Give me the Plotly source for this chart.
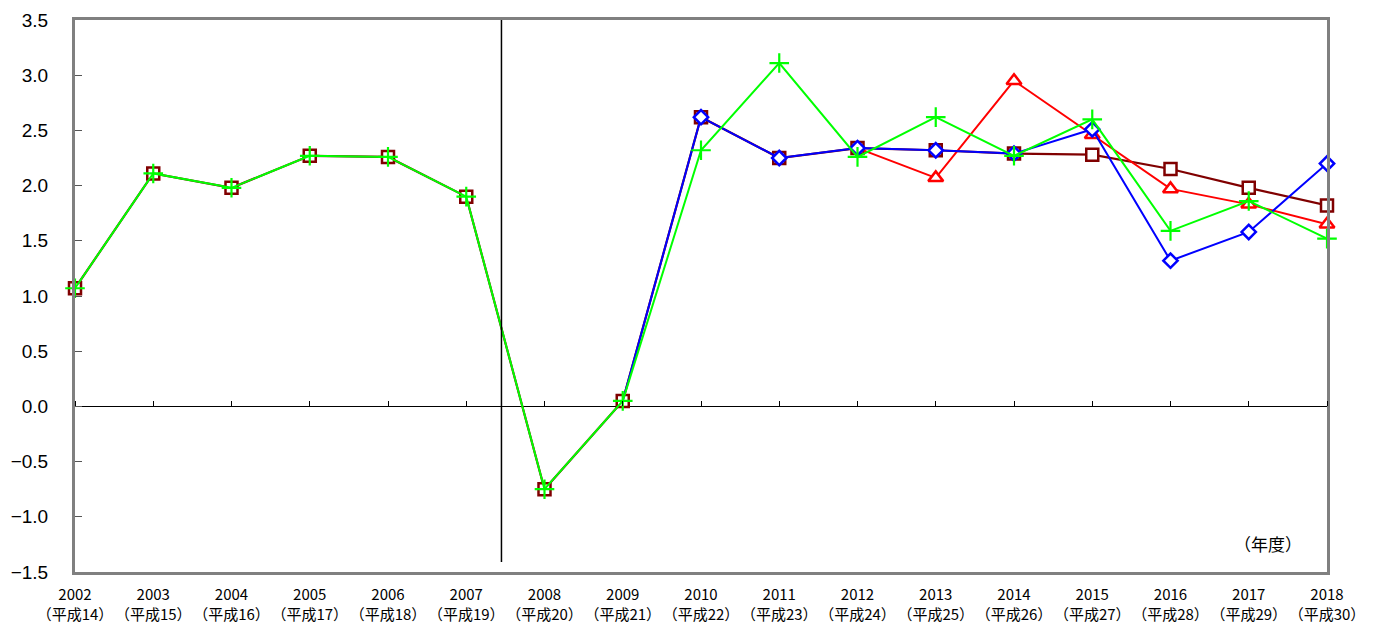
import plotly.graph_objects as go

years = list(range(2002, 2019))
heisei = list(range(14, 31))
tick_text = [f"{y}<br>（平成{h}）" for y, h in zip(years, heisei)]

N = None
series_darkred = [1.07, 2.11, 1.98, 2.27, 2.26, 1.90, -0.75, 0.05, 2.62, 2.25, 2.34, 2.32, 2.29, 2.28, 2.15, 1.98, 1.82]
series_red     = [N, N, N, N, N, N, N, N, N, N, 2.34, 2.07, 2.95, 2.46, 1.97, 1.83, 1.65]
series_blue    = [N, N, N, N, N, N, N, 0.05, 2.62, 2.25, 2.34, 2.32, 2.29, 2.51, 1.32, 1.58, 2.20]
series_green   = [1.07, 2.11, 1.98, 2.27, 2.26, 1.90, -0.75, 0.05, 2.32, 3.11, 2.26, 2.62, 2.27, 2.60, 1.59, 1.86, 1.52]

y_ticks = [3.5, 3.0, 2.5, 2.0, 1.5, 1.0, 0.5, 0.0, -0.5, -1.0, -1.5]
y_tick_text = [f"{v:.1f}".replace("-", "−") for v in y_ticks]
divider_x = 2007.45
divider_y = [-1.41, 3.5]

fig = go.Figure()


def sizes_hide_first(vals, size):
    first = next(i for i, v in enumerate(vals) if v is not None)
    return [0 if i == first else size for i in range(len(vals))]


def add(vals, color, symbol, size, lw=2, hide_first=False, fill="white"):
    fig.add_trace(go.Scatter(
        x=years, y=vals, mode="lines+markers", cliponaxis=False,
        line=dict(color=color, width=lw),
        marker=dict(symbol=symbol, opacity=1,
                    size=sizes_hide_first(vals, size) if hide_first else size,
                    color=fill, line=dict(color=color, width=2.5)),
        showlegend=False, connectgaps=False))

add(series_darkred, "#800000", "square", 12, lw=2.2)
add(series_red, "#ff0000", "triangle-up", 13, hide_first=True)
add(series_blue, "#0000ff", "diamond", 11, hide_first=True)
fig.add_trace(go.Scatter(
    x=years, y=series_green, mode="lines+markers", cliponaxis=False,
    line=dict(color="#00ff00", width=2),
    marker=dict(symbol="cross-thin", size=14, color="#00ff00",
                line=dict(color="#00ff00", width=2.2)),
    showlegend=False))

fig.add_shape(type="line", x0=divider_x, x1=divider_x, y0=divider_y[0], y1=divider_y[1],
              xref="x", yref="y", line=dict(color="black", width=1.5))

fig.add_annotation(text="（年度）", x=0.982, y=0.0525, xref="paper", yref="paper",
                   showarrow=False, xanchor="right", yanchor="middle",
                   font=dict(size=17, color="black", family="Noto Sans CJK JP"))

font_family = "Noto Sans CJK JP, Liberation Sans, sans-serif"
num_font = "Liberation Sans, Arial, sans-serif"

fig.update_layout(
    width=1376, height=625,
    margin=dict(l=75, r=49, t=20, b=53),
    plot_bgcolor="white", paper_bgcolor="white",
    font=dict(family=font_family, color="black"),
    xaxis=dict(range=[2002, 2018], tickvals=years, ticktext=tick_text,
               showgrid=False, zeroline=False, ticks="", automargin=False,
               tickangle=0, ticklabelstandoff=7,
               showline=True, mirror=True, linecolor="#808080", linewidth=3,
               tickfont=dict(size=15, family=font_family)),
    xaxis2=dict(range=[2002, 2018], overlaying="x", anchor="free", position=0.3,
                side="top", tickvals=years, ticks="outside", ticklen=5,
                tickcolor="black", tickwidth=1, showticklabels=False, automargin=False,
                showgrid=False, zeroline=False, showline=False),
    yaxis=dict(range=[-1.5, 3.5], tickvals=y_ticks, ticktext=y_tick_text,
               showgrid=False, zeroline=True, zerolinecolor="black", zerolinewidth=1,
               ticks="inside", ticklen=7, tickcolor="#555555", tickwidth=1,
               showline=True, mirror=True, linecolor="#808080", linewidth=3,
               ticklabelstandoff=20, automargin=False,
               tickfont=dict(size=19, family=num_font)),
)

fig.add_trace(go.Scatter(x=[2002], y=[None], xaxis="x2", showlegend=False, hoverinfo="skip"))

fig.write_html("out.html", config={"displayModeBar": False})

# remove the default page margin so the figure sits at the window origin
with open("out.html", encoding="utf-8") as f:
    html = f.read()
html = html.replace("<head>", "<head><style>html,body{margin:0;padding:0;overflow:hidden;}</style>", 1)
with open("out.html", "w", encoding="utf-8") as f:
    f.write(html)
